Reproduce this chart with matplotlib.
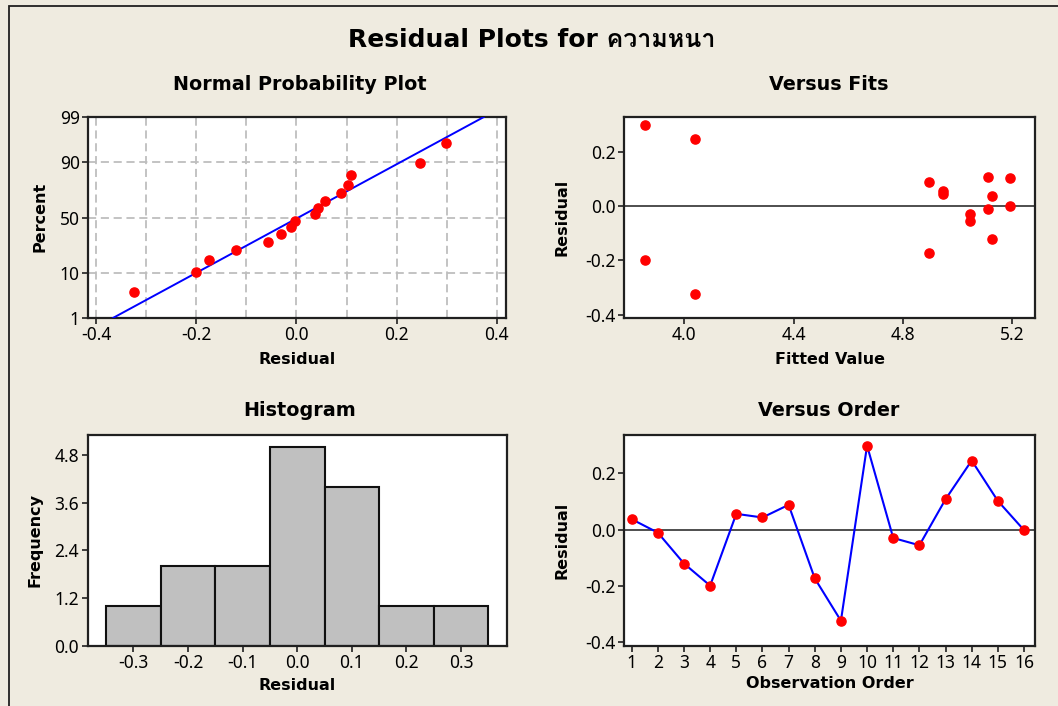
import numpy as np
import matplotlib
matplotlib.use("Agg")
import matplotlib.pyplot as plt
from matplotlib import font_manager
from matplotlib.ft2font import FT2Font
from statistics import NormalDist

order = list(range(1, 17))
residuals = [0.037, -0.011, -0.121, -0.200, 0.056, 0.043, 0.088, -0.174,
             -0.325, 0.299, -0.030, -0.056, 0.108, 0.246, 0.102, -0.002]
fitted = [5.126, 5.112, 5.126, 3.855, 4.946, 4.946, 4.895, 4.895,
          4.041, 3.855, 5.046, 5.046, 5.112, 4.041, 5.193, 5.193]

hist_centers = [-0.3, -0.2, -0.1, 0.0, 0.1, 0.2, 0.3]
hist_counts = [1, 2, 2, 5, 4, 1, 1]

pct_ticks = [1, 10, 50, 90, 99]

W, H = 1058, 706
BG = "#EFEBE0"
DOT = "#FF0000"
plt.rcParams["axes.unicode_minus"] = False


def find_thai_font():
    for f in font_manager.fontManager.ttflist:
        try:
            if 0x0E04 in FT2Font(f.fname).get_charmap():
                return f.name
        except Exception:
            pass
    return None


thai = find_thai_font()
title_family = ["DejaVu Sans"] + ([thai] if thai else [])

TICK_FONT = "Noto Sans"
BOLD = dict(family="DejaVu Sans", weight="bold")

fig = plt.figure(figsize=(W / 100, H / 100), dpi=100, facecolor=BG)
fig.patches.append(plt.Rectangle((9 / W, -0.05), 1.1, 1 - 6 / H + 0.05, transform=fig.transFigure,
                                 fill=False, edgecolor="#202020", linewidth=1.3))


def box(left, top, right, bottom):
    return fig.add_axes([left / W, 1 - bottom / H, (right - left) / W, (bottom - top) / H])


def put(x, y, s, size, rotation=0, **kw):
    fig.text(x / W, 1 - y / H, s, ha="center", va="center", fontsize=size, rotation=rotation, **kw)


def style(ax):
    for sp in ax.spines.values():
        sp.set_linewidth(1.6)
        sp.set_color("#202020")
    ax.tick_params(direction="out", length=4, width=1.2, pad=2, labelsize=12.5, color="#202020")
    for lab in ax.get_xticklabels() + ax.get_yticklabels():
        lab.set_family(TICK_FONT)


# --- normal probability plot ---
nd = NormalDist()
_ppf = np.vectorize(lambda v: nd.inv_cdf(v / 100), otypes=[float])
_cdf = np.vectorize(lambda v: nd.cdf(v) * 100, otypes=[float])


def fwd(p):
    p = np.clip(np.asarray(p, dtype=float), 1e-6, 100 - 1e-6)
    return _ppf(p)


def inv(z):
    return _cdf(np.asarray(z, dtype=float))


ax1 = box(88, 117, 506, 318)
srt = np.sort(residuals)
n = len(srt)
pp = (np.arange(1, n + 1) - 0.3) / (n + 0.4) * 100
ax1.set_yscale("function", functions=(fwd, inv))
mu, sd = np.mean(residuals), np.std(residuals, ddof=1)
line_p = np.linspace(1, 99, 60)
ax1.plot(mu + sd * fwd(line_p), line_p, color="#0000FF", lw=1.4, zorder=3)
ax1.plot(srt, pp, "o", color=DOT, ms=6.6, zorder=4)
ax1.set_xlim(-0.4166, 0.4186)
ax1.set_ylim(1, 99)
ax1.set_xticks([-0.4, -0.2, 0.0, 0.2, 0.4])
ax1.set_xticks([-0.3, -0.1, 0.1, 0.3], minor=True)
ax1.set_yticks(pct_ticks)
ax1.set_yticks([], minor=True)
ax1.set_yticklabels([str(v) for v in pct_ticks])
ax1.set_xticklabels(["%.1f" % v for v in [-0.4, -0.2, 0.0, 0.2, 0.4]])
ax1.tick_params(axis="x", which="minor", length=0)
ax1.grid(True, which="both", color="#BEBEBE", lw=1.3, ls=(0, (4.5, 2.6)))
ax1.set_axisbelow(True)
style(ax1)

# --- versus fits ---
ax2 = box(624, 117, 1035, 318)
ax2.axhline(0, color="#303030", lw=1.2, zorder=2)
ax2.plot(fitted, residuals, "o", color=DOT, ms=6.6, zorder=4)
ax2.set_xlim(3.78, 5.283)
ax2.set_ylim(-0.412, 0.327)
ax2.set_xticks([4.0, 4.4, 4.8, 5.2])
ax2.set_xticklabels(["4.0", "4.4", "4.8", "5.2"])
ax2.set_yticks([-0.4, -0.2, 0.0, 0.2])
ax2.set_yticklabels(["-0.4", "-0.2", "0.0", "0.2"])
style(ax2)

# --- histogram ---
ax3 = box(87.5, 435, 507, 646)
ax3.bar(hist_centers, hist_counts, width=0.1, color="#C0C0C0", edgecolor="#101010", linewidth=1.5)
ax3.set_xlim(-0.384, 0.384)
ax3.set_ylim(0, 5.3)
ax3.set_xticks(hist_centers)
ax3.set_xticklabels(["%.1f" % v for v in hist_centers])
ax3.set_yticks([0, 1.2, 2.4, 3.6, 4.8])
ax3.set_yticklabels(["0.0", "1.2", "2.4", "3.6", "4.8"])
style(ax3)

# --- versus order ---
ax4 = box(624, 435, 1035, 646)
ax4.axhline(0, color="#303030", lw=1.2, zorder=2)
ax4.plot(order, residuals, "-", color="#0000FF", lw=1.5, zorder=3)
ax4.plot(order, residuals, "o", color=DOT, ms=6.6, zorder=4)
ax4.set_xlim(0.707, 16.42)
ax4.set_ylim(-0.415, 0.337)
ax4.set_xticks(order)
ax4.set_xticklabels([str(v) for v in order])
ax4.set_yticks([-0.4, -0.2, 0.0, 0.2])
ax4.set_yticklabels(["-0.4", "-0.2", "0.0", "0.2"])
style(ax4)

for ax in (ax1, ax2, ax3, ax4):
    ax.set_facecolor("white")

# titles and labels
put(532, 40, "Residual Plots for ความหนา", 18, family=title_family, weight="bold")
put(300, 85, "Normal Probability Plot", 13.8, **BOLD)
put(829, 85, "Versus Fits", 13.8, **BOLD)
put(300, 411, "Histogram", 13.8, **BOLD)
put(829, 411, "Versus Order", 13.8, **BOLD)

put(297, 359, "Residual", 11.5, **BOLD)
put(40, 217, "Percent", 11.5, rotation=90, **BOLD)
put(830, 359, "Fitted Value", 11.5, **BOLD)
put(562, 217, "Residual", 11.5, rotation=90, **BOLD)
put(297, 686, "Residual", 11.5, **BOLD)
put(35, 540, "Frequency", 11.5, rotation=90, **BOLD)
put(830, 683, "Observation Order", 11.5, **BOLD)
put(562, 540, "Residual", 11.5, rotation=90, **BOLD)

fig.savefig("out.png", dpi=100, facecolor=BG)
